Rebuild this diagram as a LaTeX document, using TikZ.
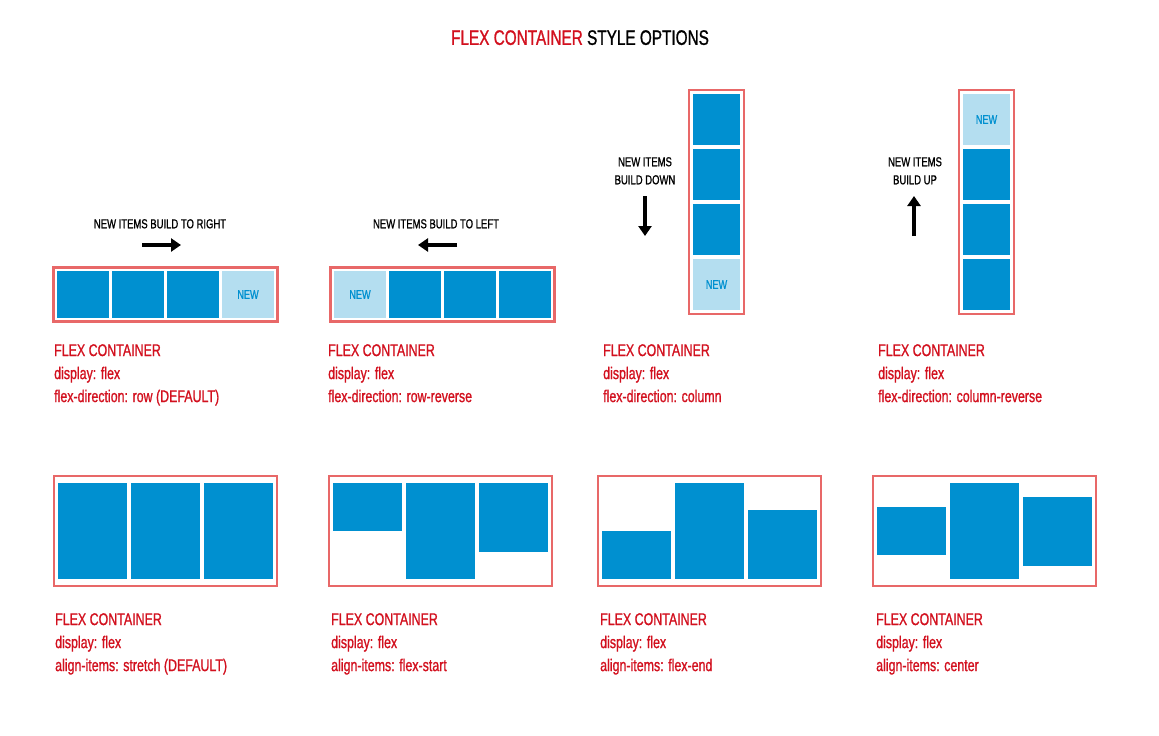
\documentclass[tikz,border=0pt]{standalone}
\usepackage{fontspec}
\setmainfont{Liberation Sans}[FakeStretch=0.73, FakeBold=1]
\usepackage{tikz}
\usetikzlibrary{positioning}
\usetikzlibrary{fit}
\usetikzlibrary{arrows.meta}

\definecolor{flexred}{RGB}{210,16,30}
\definecolor{boxred}{RGB}{232,104,104}
\definecolor{itemblue}{RGB}{0,144,208}
\definecolor{newblue}{RGB}{180,222,240}

\begin{document}
\begin{tikzpicture}
        [x=1pt, y=-1pt,
         item/.style={fill=itemblue, inner sep=0, outer sep=0},
         rowitem/.style={item, minimum width=52pt, minimum height=47pt},
         colitem/.style={item, minimum width=47pt, minimum height=51pt},
         bigitem/.style={item, minimum width=69pt},
         newitem/.style={fill=newblue, text=itemblue, font=\fontsize{12.5}{12.5}\selectfont},
         flexbox/.style={draw=boxred, line width=2.2pt, inner sep=3.5pt},
         info/.style={text=flexred, align=left, anchor=north west, inner sep=0,
                      font=\fontsize{17}{23}\selectfont},
         hint/.style={align=center, anchor=north, inner sep=0,
                      font=\fontsize{13}{18}\selectfont},
         push/.style={line width=4pt, -{Triangle[length=10pt, width=13pt]}}]
        \useasboundingbox (0,0) rectangle (1159,736);

        \node [anchor=north, inner sep=0, font=\fontsize{21}{21}\selectfont] (title) at (580,30)
            {\textcolor{flexred}{FLEX CONTAINER} STYLE OPTIONS};

        % flex-direction: row
        \node [hint] (h1) at (160,219) {NEW ITEMS BUILD TO RIGHT};
        \coordinate (a1s) at (142,245);
        \coordinate (a1e) at (181,245);
        \draw [push] (a1s) -- (a1e);
        \node [rowitem, anchor=north west] (r1) at (57,271) {};
        \node [rowitem, right=3pt of r1] (r2) {};
        \node [rowitem, right=3pt of r2] (r3) {};
        \node [rowitem, newitem, right=3pt of r3] (r4) {NEW};
        \node [flexbox, fit=(r1)(r4)] (box1) {};
        \node [info] (i1) at (54,344) {FLEX CONTAINER\\display: flex\\flex-direction: row (DEFAULT)};

        % flex-direction: row-reverse
        \node [hint] (h2) at (436,219) {NEW ITEMS BUILD TO LEFT};
        \coordinate (a2s) at (457,245);
        \coordinate (a2e) at (418,245);
        \draw [push] (a2s) -- (a2e);
        \node [rowitem, newitem, anchor=north west] (q1) at (334,271) {NEW};
        \node [rowitem, right=3pt of q1] (q2) {};
        \node [rowitem, right=3pt of q2] (q3) {};
        \node [rowitem, right=3pt of q3] (q4) {};
        \node [flexbox, fit=(q1)(q4)] (box2) {};
        \node [info] (i2) at (328,344) {FLEX CONTAINER\\display: flex\\flex-direction: row-reverse};

        % flex-direction: column
        \node [hint] (h3) at (645,157) {NEW ITEMS\\BUILD DOWN};
        \coordinate (a3s) at (645,196);
        \coordinate (a3e) at (645,236);
        \draw [push] (a3s) -- (a3e);
        \node [colitem, anchor=north west] (c1) at (693,94) {};
        \node [colitem, below=4pt of c1] (c2) {};
        \node [colitem, below=4pt of c2] (c3) {};
        \node [colitem, newitem, below=4pt of c3] (c4) {NEW};
        \node [flexbox, fit=(c1)(c4), inner sep=4pt] (box3) {};
        \node [info] (i3) at (603,344) {FLEX CONTAINER\\display: flex\\flex-direction: column};

        % flex-direction: column-reverse
        \node [hint] (h4) at (915,157) {NEW ITEMS\\BUILD UP};
        \coordinate (a4s) at (914,236);
        \coordinate (a4e) at (914,196);
        \draw [push] (a4s) -- (a4e);
        \node [colitem, newitem, anchor=north west] (d1) at (963,94) {NEW};
        \node [colitem, below=4pt of d1] (d2) {};
        \node [colitem, below=4pt of d2] (d3) {};
        \node [colitem, below=4pt of d3] (d4) {};
        \node [flexbox, fit=(d1)(d4), inner sep=4pt] (box4) {};
        \node [info] (i4) at (878,344) {FLEX CONTAINER\\display: flex\\flex-direction: column-reverse};

        % align-items: stretch
        \node [bigitem, minimum height=96pt, anchor=north west] (s1) at (58,483) {};
        \node [bigitem, minimum height=96pt, right=4pt of s1] (s2) {};
        \node [bigitem, minimum height=96pt, right=4pt of s2] (s3) {};
        \node [flexbox, fit=(s1)(s3), inner xsep=4pt, inner ysep=7pt] (box5) {};
        \node [info] (i5) at (55,613) {FLEX CONTAINER\\display: flex\\align-items: stretch (DEFAULT)};

        % align-items: flex-start
        \node [bigitem, minimum height=48pt, anchor=north west] (f1) at (333,483) {};
        \node [bigitem, minimum height=96pt, right=4pt of f1.north east, anchor=north west] (f2) {};
        \node [bigitem, minimum height=69pt, right=4pt of f2.north east, anchor=north west] (f3) {};
        \node [flexbox, fit=(f1)(f2)(f3), inner xsep=4pt, inner ysep=7pt] (box6) {};
        \node [info] (i6) at (331,613) {FLEX CONTAINER\\display: flex\\align-items: flex-start};

        % align-items: flex-end
        \node [bigitem, minimum height=48pt, anchor=south west] (e1) at (602,579) {};
        \node [bigitem, minimum height=96pt, right=4pt of e1.south east, anchor=south west] (e2) {};
        \node [bigitem, minimum height=69pt, right=4pt of e2.south east, anchor=south west] (e3) {};
        \node [flexbox, fit=(e1)(e2)(e3), inner xsep=4pt, inner ysep=7pt] (box7) {};
        \node [info] (i7) at (600,613) {FLEX CONTAINER\\display: flex\\align-items: flex-end};

        % align-items: center
        \node [bigitem, minimum height=48pt, anchor=west] (m1) at (877,531) {};
        \node [bigitem, minimum height=96pt, right=4pt of m1] (m2) {};
        \node [bigitem, minimum height=69pt, right=4pt of m2] (m3) {};
        \node [flexbox, fit=(m1)(m2)(m3), inner xsep=4pt, inner ysep=7pt] (box8) {};
        \node [info] (i8) at (876,613) {FLEX CONTAINER\\display: flex\\align-items: center};
    \end{tikzpicture}
\end{document}
